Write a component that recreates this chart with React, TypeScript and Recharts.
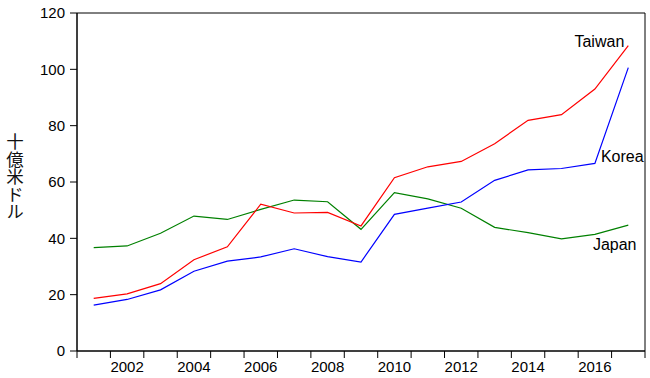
import React from 'react';
import {
  LineChart,
  Line,
  XAxis,
  YAxis,
  ReferenceArea,
  LabelList
} from 'recharts';

const years = [2001, 2002, 2003, 2004, 2005, 2006, 2007, 2008, 2009, 2010, 2011, 2012, 2013, 2014, 2015, 2016, 2017];
const taiwan = [18.7, 20.3, 23.9, 32.4, 37.0, 52.1, 49.0, 49.2, 44.4, 61.5, 65.4, 67.3, 73.6, 81.9, 83.9, 93.0, 108.4];
const korea = [16.3, 18.3, 21.7, 28.3, 31.9, 33.4, 36.3, 33.5, 31.6, 48.5, 50.7, 52.9, 60.6, 64.3, 64.8, 66.6, 100.6];
const japan = [36.7, 37.3, 41.8, 47.9, 46.7, 50.3, 53.6, 53.0, 43.2, 56.2, 54.0, 50.7, 43.9, 42.0, 39.8, 41.4, 44.7];

// tick marks sit between the years, labels on even years
const boundaryTicks = [2000.5, 2001.5, 2002.5, 2003.5, 2004.5, 2005.5, 2006.5, 2007.5, 2008.5, 2009.5, 2010.5, 2011.5, 2012.5, 2013.5, 2014.5, 2015.5, 2016.5, 2017.5];
const yearLabels = [2002, 2004, 2006, 2008, 2010, 2012, 2014, 2016];
const yTicks = [0, 20, 40, 60, 80, 100, 120];
const yTitle = '十億米ドル';

const data = years.map((year, i) => ({
  year,
  taiwan: taiwan[i],
  korea: korea[i],
  japan: japan[i]
}));

const FONT = '"Liberation Sans", Arial, sans-serif';

const seriesLabel = (text: string, at: number, dx: number, dy: number, anchor: string) =>
  (props: any) => {
    if (props.index !== at) return null;
    return (
      <text
        x={props.x + dx}
        y={props.y + dy}
        textAnchor={anchor}
        fontFamily={FONT}
        fontSize={16}
        fill="#000"
      >
        {text}
      </text>
    );
  };

// vertical japanese title, one upright glyph under the other
const YTitle = () => (
  <text
    x={15}
    y={133}
    textAnchor="start"
    fontFamily='"Noto Sans CJK JP", sans-serif'
    fontSize={17.5}
    fill="#111"
    style={{ writingMode: 'vertical-rl', textOrientation: 'upright' } as any}
  >
    {yTitle}
  </text>
);

const tickStyle = { fontFamily: FONT, fontSize: 15, fill: '#000' };

export default function App() {
  return (
    <div style={{ position: 'absolute', left: 0, top: 0, background: '#fff' }}>
      <LineChart
        width={650}
        height={378}
        data={data}
        margin={{ top: 13, right: 5, bottom: 0, left: 0 }}
      >
        <XAxis
          dataKey="year"
          type="number"
          domain={[2000.5, 2017.5]}
          ticks={boundaryTicks}
          tickFormatter={() => ''}
          height={7}
          tickSize={7}
          axisLine={{ stroke: '#000' }}
          tickLine={{ stroke: '#000' }}
          interval={0}
        />
        <XAxis
          xAxisId="years"
          dataKey="year"
          type="number"
          domain={[2000.5, 2017.5]}
          ticks={yearLabels}
          axisLine={false}
          tickLine={false}
          tickSize={0}
          tickMargin={3}
          height={20}
          tick={tickStyle}
          interval={0}
        />
        <YAxis
          domain={[0, 120]}
          ticks={yTicks}
          width={77}
          tickSize={7}
          tickMargin={5}
          axisLine={{ stroke: '#000' }}
          tickLine={{ stroke: '#000' }}
          tick={tickStyle}
          interval={0}
          label={<YTitle />}
        />
        <ReferenceArea
          x1={2000.5}
          x2={2017.5}
          y1={0}
          y2={120}
          fill="none"
          stroke="#000"
          strokeWidth={1}
          fillOpacity={0}
        />
        <Line
          dataKey="japan"
          stroke="#008000"
          strokeWidth={1.2}
          dot={false}
          isAnimationActive={false}
        >
          <LabelList content={seriesLabel('Japan', 15, -2, 16, 'start')} />
        </Line>
        <Line
          dataKey="korea"
          stroke="#0000ff"
          strokeWidth={1.2}
          dot={false}
          isAnimationActive={false}
        >
          <LabelList content={seriesLabel('Korea', 15, 6, -1, 'start')} />
        </Line>
        <Line
          dataKey="taiwan"
          stroke="#ff0000"
          strokeWidth={1.2}
          dot={false}
          isAnimationActive={false}
        >
          <LabelList content={seriesLabel('Taiwan', 16, -4, 1, 'end')} />
        </Line>
      </LineChart>
    </div>
  );
}
